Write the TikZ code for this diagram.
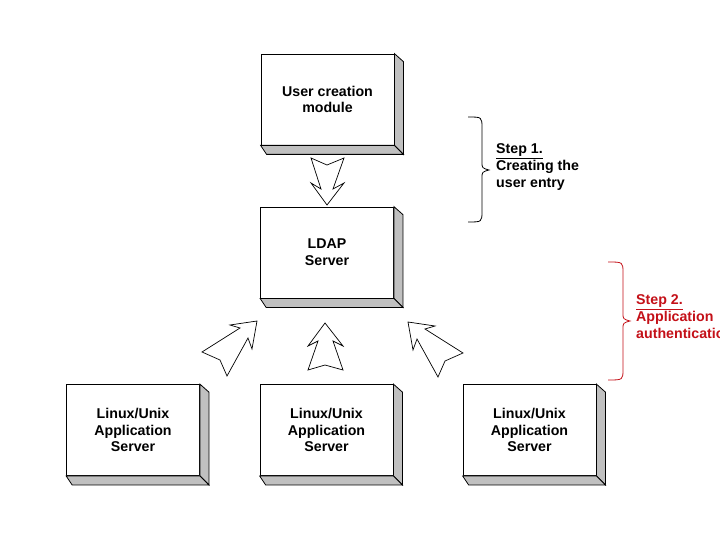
\documentclass[tikz,border=0pt]{standalone}
\usepackage{fontspec}
\setmainfont{Liberation Sans}
\definecolor{stepred}{RGB}{196,16,24}
\definecolor{sidegray}{RGB}{192,192,192}
\begin{document}
\begin{tikzpicture}[x=1pt,y=-1pt,line join=miter,
  box/.style={draw,fill=white,line width=0.8pt,minimum width=133pt,minimum height=91pt,inner sep=0pt,align=center,
    font=\fontsize{14.2}{16.8}\selectfont\bfseries},
  blockarrow/.style={draw,fill=white,line width=0.7pt},
  brace/.style={draw,line width=0.8pt},
  steptext/.style={align=left,inner sep=0pt,font=\fontsize{14.2}{17}\selectfont\bfseries}]
\clip (0,0) rectangle (720,540);
\fill[white] (0,0) rectangle (720,540);
\newcommand\sideshade[1]{%
  \draw[fill=sidegray,line width=0.8pt] (#1.north east) -- ([shift={(9,8)}]#1.north east) -- ([shift={(9,9)}]#1.south east) -- (#1.south east) -- cycle;
  \draw[fill=sidegray,line width=0.8pt] (#1.south west) -- ([shift={(6,9)}]#1.south west) -- ([shift={(9,9)}]#1.south east) -- (#1.south east) -- cycle;}
% boxes
\node[box] (user) at (327.5,99.5) {User creation\\module};
\node[box] (ldap) at (327,252.5) {LDAP\\Server};
\node[box] (lin1) at (133,430) {Linux/Unix\\Application\\Server};
\node[box] (lin2) at (326.5,430) {Linux/Unix\\Application\\Server};
\node[box] (lin3) at (529.5,430) {Linux/Unix\\Application\\Server};
\sideshade{user}
\sideshade{ldap}
\sideshade{lin1}
\sideshade{lin2}
\sideshade{lin3}
% block arrows
\draw[blockarrow] (311,158) -- (327,165) -- (344,158) -- (333,189) -- (344,183) -- (327,205) -- (311,183) -- (321,189) -- cycle;
\draw[blockarrow] (325,323) -- (308,346) -- (318,341) -- (308,370) -- (325,365) -- (343,370) -- (333,341) -- (343,346) -- cycle;
\draw[blockarrow] (257,321) -- (230,325) -- (240,328) -- (202,352) -- (220,360) -- (227,376) -- (248,338) -- (252,349) -- cycle;
\draw[blockarrow] (408,322) -- (435,326) -- (425,329) -- (463,353) -- (445,361) -- (438,377) -- (417,339) -- (413,350) -- cycle;
% step 1 brace
\draw[brace] (468,117) .. controls (482,117) .. (482,128) -- (482,162) .. controls (482,168) .. (489,170) .. controls (482,172) .. (482,178) -- (482,211) .. controls (482,222) .. (468,222);
\node[steptext,anchor=west] (step1) at (496,167) {\underline{Step 1.}\\Creating the\\user entry};
% step 2 brace
\draw[brace,stepred] (608,262) .. controls (623,262) .. (623,273) -- (623,313) .. controls (623,319) .. (630,321) .. controls (623,323) .. (623,329) -- (623,369) .. controls (623,380) .. (608,380);
\node[steptext,anchor=west,text=stepred] (step2) at (636,317) {\underline{Step 2.}\\Application\\authentication};
\end{tikzpicture}
\end{document}
